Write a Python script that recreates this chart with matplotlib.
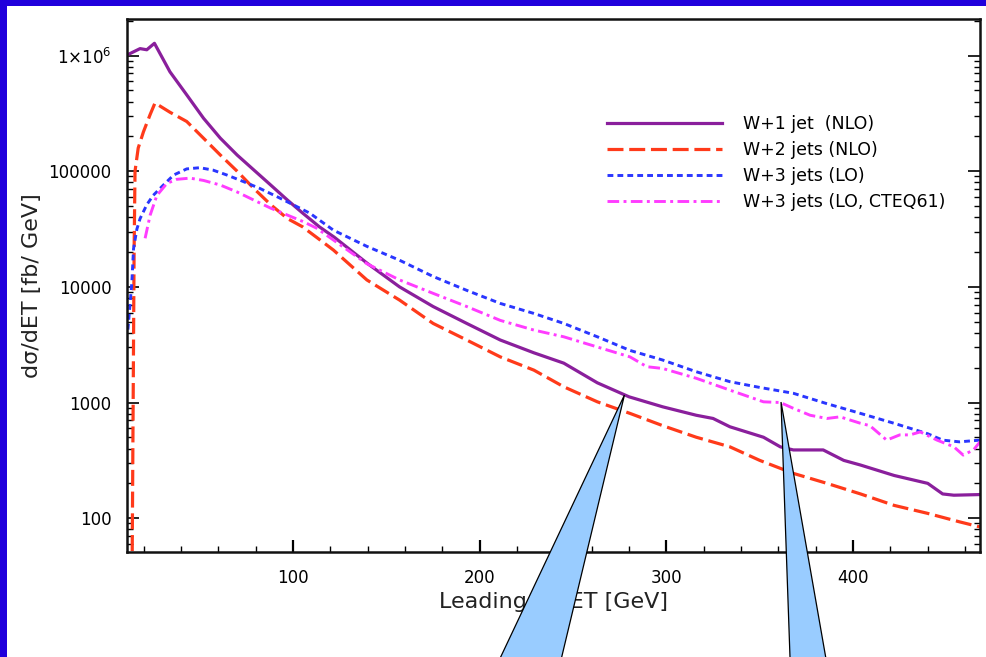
import matplotlib
matplotlib.use("Agg")
import matplotlib.pyplot as plt
from matplotlib.patches import Rectangle, Polygon
from matplotlib.ticker import FixedLocator, MultipleLocator, LogLocator, FuncFormatter, NullFormatter

# Leading-jet transverse energy [GeV] and differential cross sections [fb/GeV]
et_w1 = [11, 18, 21.6, 25.7, 34, 43, 52, 61, 70, 79, 88, 97, 105, 114, 122, 140, 157, 175,
         193, 211, 229, 245, 263, 280, 298, 316, 325, 334, 352, 361, 368, 384, 395, 404,
         422, 440, 448, 454, 468]
xs_w1 = [1010000, 1148000, 1122000, 1276000, 724000, 457000, 287000, 193000, 138000,
         102300, 75900, 56200, 43600, 33100, 26900, 15850, 10000, 6760, 4830, 3470, 2690,
         2190, 1480, 1120, 918, 776, 728, 617, 501, 414, 389, 389, 316, 288, 234, 200, 162,
         158, 160]

et_w2 = [13.8, 14.8, 15.3, 17, 19.8, 23.4, 26, 34, 43, 52, 61, 70, 79, 88, 97, 105, 114.5,
         121.6, 139.5, 157, 175, 193, 211, 229, 245, 263, 280.5, 298, 316, 334, 350, 368,
         386, 404, 422, 440, 457, 468]
xs_w2 = [52, 19950, 100000, 158500, 218800, 309000, 389000, 323600, 269000, 192800,
         138000, 100000, 70800, 51300, 38900, 33100, 25400, 20800, 11480, 7690, 4830, 3470,
         2480, 1905, 1368, 1014, 805, 631, 501, 414, 316, 244, 200, 162, 129, 110, 93, 84]

et_w3 = [11.5, 13.6, 14.5, 16.3, 18, 21.6, 25, 30.5, 36, 43, 50, 57, 64.5, 73.4, 82.3, 91.3,
         100, 109, 121.6, 139.5, 157, 175, 193, 211, 229, 245, 263, 280.5, 298, 316, 334,
         350, 368, 386, 404, 422, 440, 448, 457, 468]
xs_w3 = [4270, 10960, 21380, 31600, 38900, 51300, 61700, 75900, 92700, 104700, 107200,
         102300, 92700, 81300, 70800, 60300, 51300, 43300, 30900, 22400, 17000, 12300, 9330,
         7190, 5890, 4830, 3700, 2820, 2330, 1845, 1514, 1350, 1202, 977, 805, 661, 537,
         473, 457, 473]

et_w3c = [20.7, 23.4, 27, 32.4, 37.7, 44.8, 52, 61, 70, 79, 88, 97, 105.5, 112.7, 121.6,
          139.5, 157, 175, 193, 211, 229, 245, 263, 280.5, 289.5, 298, 316, 334, 352, 361,
          368, 377, 386, 393, 404, 409, 418, 425, 430.5, 436, 445, 454, 459, 464.5, 468]
xs_w3c = [26300, 41700, 61700, 78500, 85100, 87100, 83200, 75900, 66100, 56200, 47900,
          41700, 36600, 32100, 25400, 15850, 11480, 8790, 6760, 5130, 4230, 3700, 3020, 2480,
          2040, 1970, 1620, 1280, 1014, 1000, 891, 776, 728, 752, 661, 631, 473, 525, 525,
          557, 473, 414, 351, 389, 457]

labels = ["W+1 jet  (NLO)", "W+2 jets (NLO)", "W+3 jets (LO)", "W+3 jets (LO, CTEQ61)"]

# points the two callouts lead to
callout_et = [277.5, 361.4]
callout_xs = [1160, 1010]

y_ticks = [100, 1000, 10000, 100000, 1000000]
x_ticks = [100, 200, 300, 400]

fig = plt.figure(figsize=(9.87, 6.57), dpi=100, facecolor="#2000dc")
fig.add_artist(Rectangle((7.5 / 987, 0), 1, 1 - 6 / 657, transform=fig.transFigure,
                         facecolor="white", edgecolor="none", zorder=-10))

ax = fig.add_axes([127 / 987, 1 - 552 / 657, (980 - 127) / 987, (552 - 19) / 657])
ax.set_facecolor("white")

ax.plot(et_w1, xs_w1, color="#8a1f9c", lw=2.3, solid_joinstyle="round", label=labels[0])
ax.plot(et_w2, xs_w2, color="#ff3a1a", lw=2.3, dashes=(5, 1.8), label=labels[1])
ax.plot(et_w3, xs_w3, color="#2a36ff", lw=2.1, dashes=(2, 1.4), label=labels[2])
ax.plot(et_w3c, xs_w3c, color="#ff3cff", lw=2.1, dashes=(4, 1.5, 1, 1.5), label=labels[3])

ax.set_yscale("log")
ax.set_xlim(11, 468)
ax.set_ylim(51, 2.07e6)

ax.xaxis.set_major_locator(FixedLocator(x_ticks))
ax.xaxis.set_minor_locator(MultipleLocator(20))
ax.yaxis.set_major_locator(FixedLocator(y_ticks))
ax.yaxis.set_minor_locator(LogLocator(base=10, subs=range(2, 10)))
ax.yaxis.set_minor_formatter(NullFormatter())


def ylab(v, pos):
    if v >= 1e6:
        return "1×10$^{6}$"
    return f"{int(round(v))}"


ax.yaxis.set_major_formatter(FuncFormatter(ylab))

ax.tick_params(axis="y", which="both", direction="in", left=True, right=True,
               labelsize=12, pad=11, colors="black")
ax.tick_params(axis="y", which="major", length=8.5, width=1.2)
ax.tick_params(axis="y", which="minor", length=4.3, width=1.0)
ax.tick_params(axis="x", which="both", direction="in", bottom=True, top=False,
               labelsize=12, pad=12)
ax.tick_params(axis="x", which="major", length=9, width=1.6)
ax.tick_params(axis="x", which="minor", length=4.3, width=1.0)

for s in ax.spines.values():
    s.set_linewidth(1.8)
    s.set_color("#111111")

ax.set_xlabel("Leading jet ET [GeV]", fontsize=16, labelpad=4, color="#222222")
ax.set_ylabel("dσ/dET [fb/ GeV]", fontsize=16, labelpad=5, color="#222222")

ax.legend(loc="upper left", bbox_to_anchor=(0.555, 0.832), frameon=False, fontsize=12.5,
          handlelength=6.6, handletextpad=1.2, labelspacing=0.45, borderaxespad=0)

# callout wedges rising from the bottom edge of the slide
fig.canvas.draw()
to_fig = fig.transFigure.inverted()
bases = [((489.8 / 987, -23 / 657), (556.2 / 987, -23 / 657)),
         ((790.8 / 987, -23 / 657), (829.7 / 987, -23 / 657))]
for xe, ys, (b1, b2) in zip(callout_et, callout_xs, bases):
    apex = to_fig.transform(ax.transData.transform((xe, ys)))
    fig.add_artist(Polygon([apex, b1, b2], closed=True, transform=fig.transFigure,
                           facecolor="#99ccff", edgecolor="black", lw=0.9, zorder=20,
                           clip_on=False))

fig.savefig("out.png", dpi=100, facecolor=fig.get_facecolor())
